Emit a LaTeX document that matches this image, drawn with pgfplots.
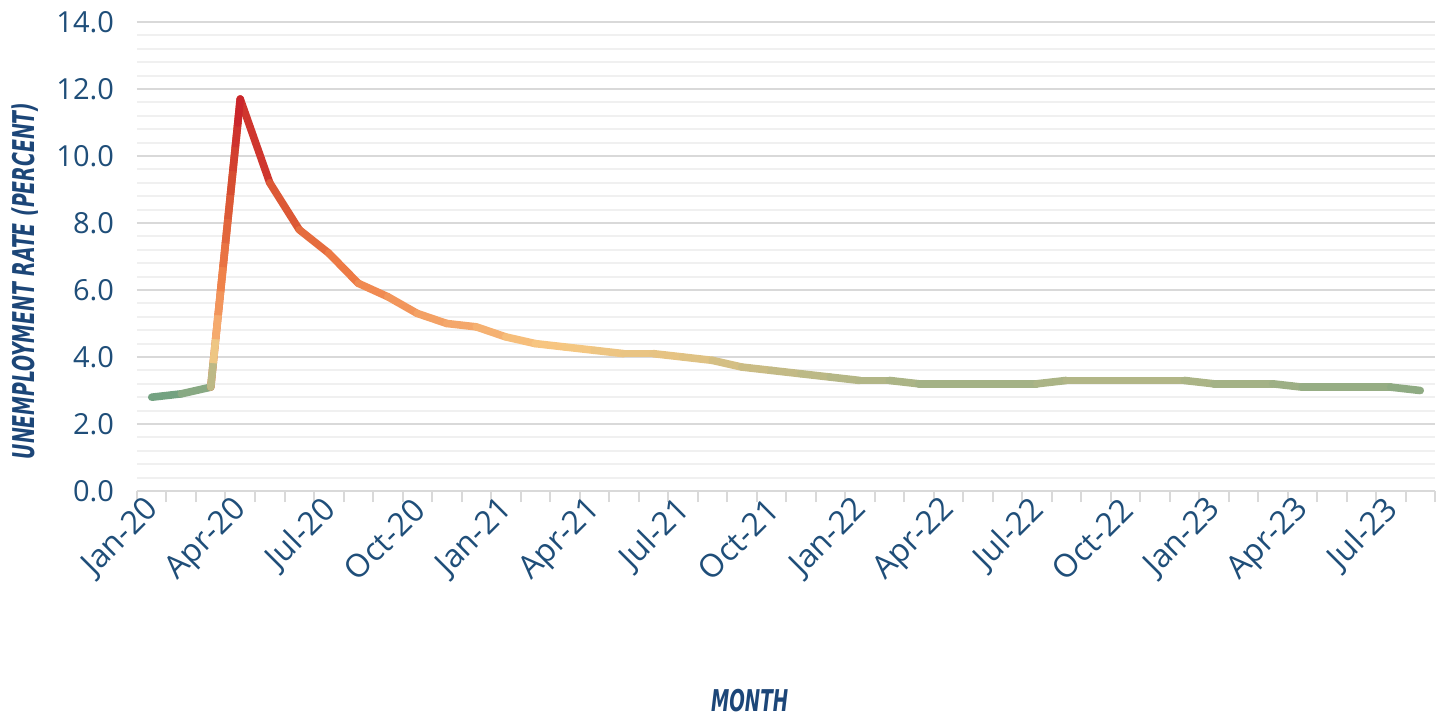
\documentclass[border=0pt]{standalone}
\usepackage{fontspec}
\setmainfont{Open Sans}
\newfontfamily\labfont{DejaVu Sans Condensed}
\usepackage{pgfplots}
\pgfplotsset{compat=1.18}
\usepackage{pgfplotstable}

\definecolor{navy}{RGB}{31,78,121}
\definecolor{labnavy}{RGB}{28,70,120}
\definecolor{gmaj}{RGB}{217,217,217}
\definecolor{gmin}{RGB}{240,240,240}
% colours of the vertical gradient along the Mar-20 to Apr-20 rise
\definecolor{s0}{RGB}{189,185,134}
\definecolor{s1}{RGB}{238,198,131}
\definecolor{s2}{RGB}{245,170,109}
\definecolor{s3}{RGB}{242,149,91}
\definecolor{s4}{RGB}{239,130,74}
\definecolor{s5}{RGB}{233,115,66}
\definecolor{s6}{RGB}{226,102,60}
\definecolor{s7}{RGB}{220,89,54}
\definecolor{s8}{RGB}{214,77,49}
\definecolor{s9}{RGB}{210,64,47}
\definecolor{s10}{RGB}{206,51,45}
\definecolor{s11}{RGB}{202,38,43}

\pgfplotstableread{
idx rate
0 2.8
1 2.9
2 3.1
3 11.7
4 9.2
5 7.8
6 7.1
7 6.2
8 5.8
9 5.3
10 5.0
11 4.9
12 4.6
13 4.4
14 4.3
15 4.2
16 4.1
17 4.1
18 4.0
19 3.9
20 3.7
21 3.6
22 3.5
23 3.4
24 3.3
25 3.3
26 3.2
27 3.2
28 3.2
29 3.2
30 3.2
31 3.3
32 3.3
33 3.3
34 3.3
35 3.3
36 3.2
37 3.2
38 3.2
39 3.1
40 3.1
41 3.1
42 3.1
43 3.0
}\ratetable

\begin{document}
\begin{tikzpicture}
\begin{axis}[scale only axis, width=649pt, height=234.5pt, xmin=-0.5, xmax=43.5, ymin=0, ymax=14,
  name=ax, at={(0,0)}, anchor=south west,
  axis lines*=left,
  x axis line style={draw=gmaj, line width=1pt},
  y axis line style={draw=none},
  xtick={0,3,...,42},
  xticklabels={Jan-20,Apr-20,Jul-20,Oct-20,Jan-21,Apr-21,Jul-21,Oct-21,Jan-22,Apr-22,Jul-22,Oct-22,Jan-23,Apr-23,Jul-23},
  minor xtick={-0.5,0.5,...,43.5},
  ytick={0,2,...,14},
  minor ytick={0.4,0.8,1.2,1.6,2.4,2.8,3.2,3.6,4.4,4.8,5.2,5.6,6.4,6.8,7.2,7.6,8.4,8.8,9.2,9.6,10.4,10.8,11.2,11.6,12.4,12.8,13.2,13.6},
  ymajorgrids, yminorgrids,
  major grid style={draw=gmaj, line width=1pt},
  minor grid style={draw=gmin, line width=1pt},
  tick align=outside,
  major tick length=0pt,
  minor tick length=5.5pt,
  x tick style={draw=gmaj, line width=1pt},
  y tick style={draw=none},
  yticklabel={\pgfmathprintnumber[fixed,fixed zerofill,precision=1,assume math mode=true]{\tick}},
  yticklabel style={font=\fontsize{14.5}{16}\selectfont, text=navy, xshift=-8pt},
  xticklabel style={font=\fontsize{16}{18}\selectfont, text=navy, anchor=east, rotate=45, xshift=5pt},
  xticklabel shift=8pt,
  xlabel={\scalebox{0.68}[1]{MONTH}},
  ylabel={\scalebox{0.7}[1]{UNEMPLOYMENT RATE (PERCENT)}},
  every axis x label/.style={at={(rel axis cs:0.472,0)}, yshift=-105pt, anchor=center, font=\labfont\fontsize{15}{18}\selectfont\bfseries\itshape, text=labnavy},
  every axis y label/.style={at={(rel axis cs:0,0.448)}, xshift=-56pt, rotate=90, anchor=center, font=\labfont\fontsize{15}{18}\selectfont\bfseries\itshape, text=labnavy},
  colormap={rategrad}{rgb255(2.8)=(108,160,128); rgb255(3.3)=(178,182,135); rgb255(4.3)=(247,200,130); rgb255(5.0)=(244,165,105); rgb255(6.5)=(238,125,70); rgb255(9.0)=(215,80,50); rgb255(11.7)=(200,32,42)},
  point meta min=2.8, point meta max=11.7,
  rise/.style={no marks, line width=3.8pt, line cap=butt, dash pattern=on 12.5pt off 500pt},
]
\addplot[mesh, point meta=y, line width=3.8pt, line join=round, line cap=round] table[x=idx,y=rate]{\ratetable};
% the Mar-20 to Apr-20 rise, coloured piece by piece along its length (about 144.8pt)
\addplot[rise, draw=s0, line cap=round] coordinates {(2,3.1) (3,11.7)};
\addplot[rise, draw=s1, dash phase=500.433pt] coordinates {(2,3.1) (3,11.7)};
\addplot[rise, draw=s2, dash phase=488.366pt] coordinates {(2,3.1) (3,11.7)};
\addplot[rise, draw=s3, dash phase=476.3pt] coordinates {(2,3.1) (3,11.7)};
\addplot[rise, draw=s4, dash phase=464.232pt] coordinates {(2,3.1) (3,11.7)};
\addplot[rise, draw=s5, dash phase=452.165pt] coordinates {(2,3.1) (3,11.7)};
\addplot[rise, draw=s6, dash phase=440.1pt] coordinates {(2,3.1) (3,11.7)};
\addplot[rise, draw=s7, dash phase=428.031pt] coordinates {(2,3.1) (3,11.7)};
\addplot[rise, draw=s8, dash phase=415.964pt] coordinates {(2,3.1) (3,11.7)};
\addplot[rise, draw=s9, dash phase=403.9pt] coordinates {(2,3.1) (3,11.7)};
\addplot[rise, draw=s10, dash phase=391.83pt] coordinates {(2,3.1) (3,11.7)};
\addplot[rise, draw=s11, line cap=round, dash pattern=on 20pt off 500pt, dash phase=387.26pt] coordinates {(2,3.1) (3,11.7)};
\end{axis}
\pgfresetboundingbox
\path[use as bounding box] ([xshift=-68.5pt,yshift=-115.5pt]ax.south west) rectangle ([xshift=7pt,yshift=11pt]ax.north east);
\end{tikzpicture}
\end{document}
